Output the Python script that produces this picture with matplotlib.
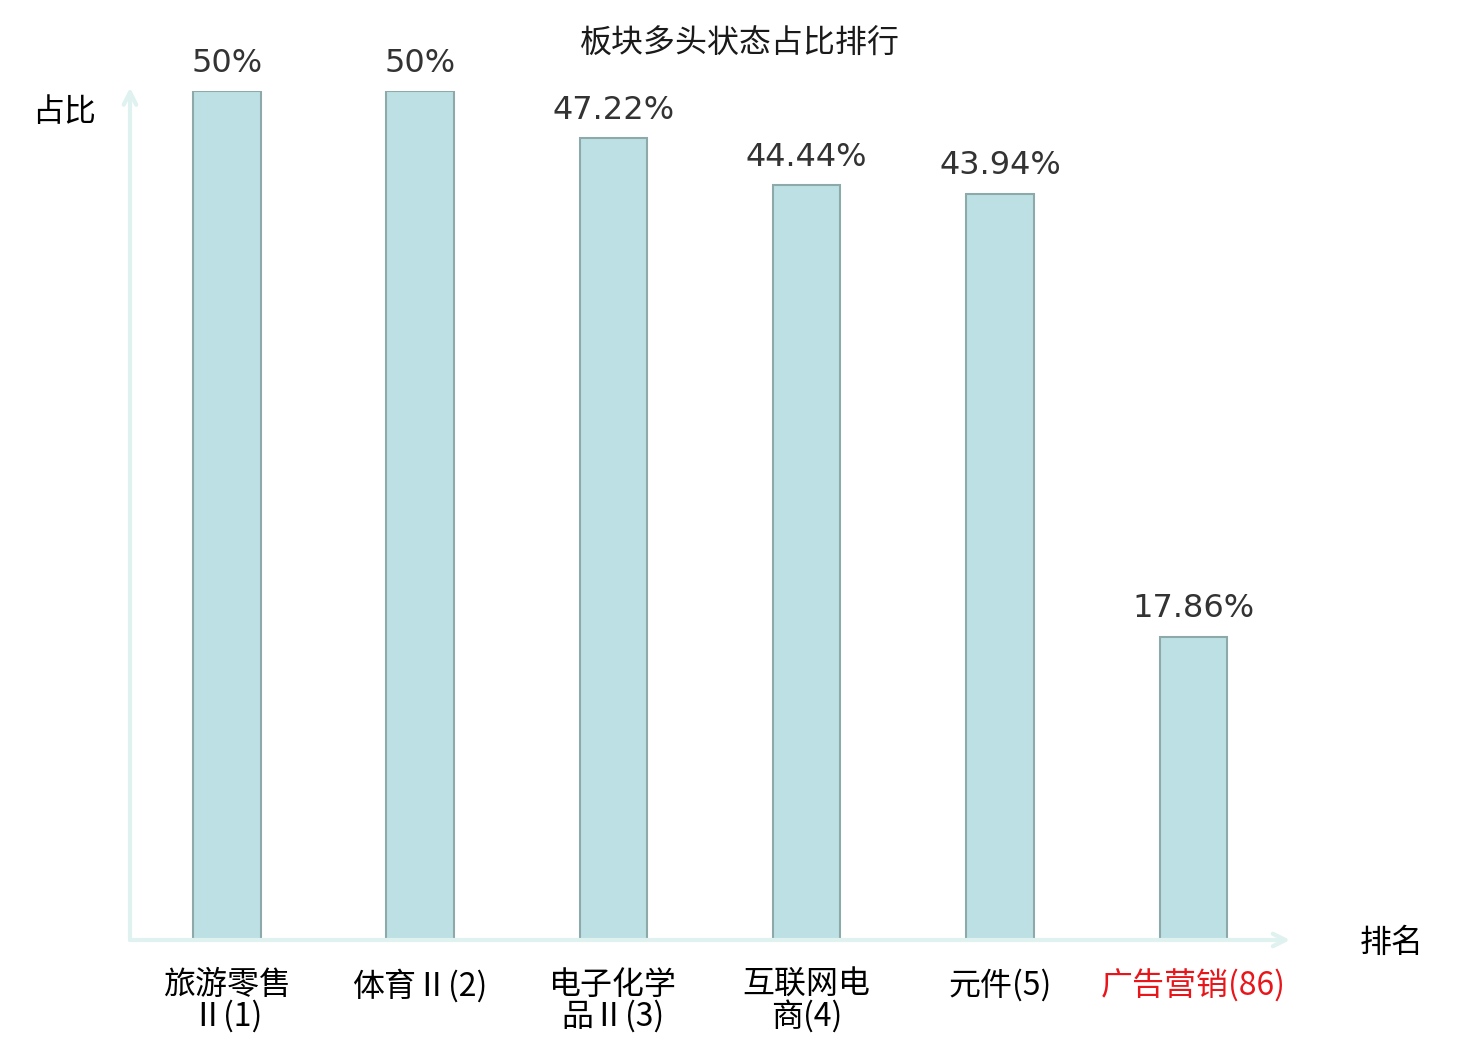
import matplotlib
matplotlib.use("Agg")
import matplotlib.pyplot as plt

plt.rcParams['font.family'] = ['Noto Sans CJK SC', 'DejaVu Sans']

categories = ["旅游零售\nⅡ(1)", "体育Ⅱ(2)", "电子化学\n品Ⅱ(3)", "互联网电\n商(4)", "元件(5)", "广告营销(86)"]
values = [50, 50, 47.22, 44.44, 43.94, 17.86]
value_labels = ["50%", "50%", "47.22%", "44.44%", "43.94%", "17.86%"]
label_colors = ["#000000", "#000000", "#000000", "#000000", "#000000", "#e8161b"]

W, H = 1480, 1040
fig = plt.figure(figsize=(W / 100, H / 100), dpi=100)
x0, x1 = 130, 1290
y0, ytop = 940, 91
ax = fig.add_axes([x0 / W, 1 - y0 / H, (x1 - x0) / W, (y0 - ytop) / H])

xs = list(range(len(categories)))
ax.bar(xs, values, width=0.35, color="#bce0e3", edgecolor="#8ea9aa", linewidth=1.5, zorder=3)
for x, v, t in zip(xs, values, value_labels):
    ax.annotate(t, (x, v), xytext=(0, 9), textcoords="offset points", ha="center", va="bottom",
                fontsize=23, color="#333333", family="DejaVu Sans")

ax.set_xlim(-0.5, 5.5)
ax.set_ylim(0, 50)
for s in ax.spines.values():
    s.set_visible(False)
ax.set_yticks([])
ax.set_xticks(xs)
ax.set_xticklabels(categories, fontsize=23, linespacing=0.95)
for lbl, c in zip(ax.get_xticklabels(), label_colors):
    lbl.set_color(c)
ax.tick_params(axis='x', length=0, pad=21)
ax.set_clip_on(False)

axcol = "#dff2ef"
ax.annotate("", xy=(1.0, 0), xytext=(0, 0), xycoords="axes fraction",
            arrowprops=dict(arrowstyle="->,head_length=0.9,head_width=0.45", color=axcol, lw=3,
                            shrinkA=0, shrinkB=0), annotation_clip=False)
ax.annotate("", xy=(0, 1.004), xytext=(0, 0), xycoords="axes fraction",
            arrowprops=dict(arrowstyle="->,head_length=0.9,head_width=0.45", color=axcol, lw=3,
                            shrinkA=0, shrinkB=0), annotation_clip=False)

fig.text(740 / W, 1 - 44 / H, "板块多头状态占比排行", ha="center", va="center", fontsize=23, color="#1a1a1a")
fig.text(64 / W, 1 - 112 / H, "占比", ha="center", va="center", fontsize=23, color="#000000")
fig.text(1392 / W, 1 - 943 / H, "排名", ha="center", va="center", fontsize=23, color="#000000")

fig.savefig("out.png", dpi=100)
